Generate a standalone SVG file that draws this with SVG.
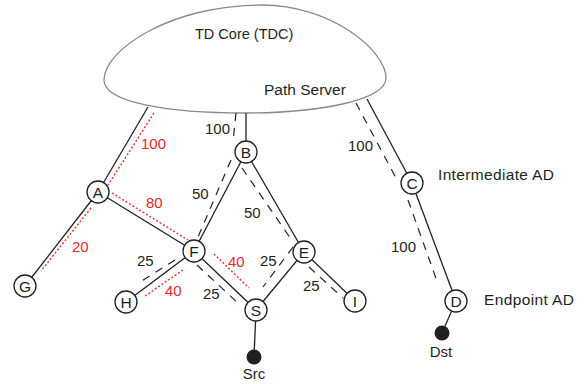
<svg xmlns="http://www.w3.org/2000/svg" width="585" height="384" viewBox="0 0 585 384">
<style>
text{font-family:"Liberation Sans",Arial,sans-serif;fill:#231f20}
.lbl{font-size:15px}
.red{fill:#e8262d}
.big{font-size:16.5px}
.solid{stroke:#231f20;stroke-width:1.3;fill:none}
.dash{stroke:#231f20;stroke-width:1.2;stroke-dasharray:8 7;fill:none}
.dot{stroke:#ec2a30;stroke-width:1.4;stroke-dasharray:2 2;fill:none}
.node circle{fill:#fff;stroke:#231f20;stroke-width:1.3}
.node text{font-size:15.5px;text-anchor:middle}
</style>
<rect width="585" height="384" fill="#fff"/>
<g id="core">
<path d="M104,80 C104,50 170,5 262,5 C330,5 386,50 386,78 C386,100 320,113 245,113 C170,113 104,103 104,80 Z" fill="#fff" stroke="#8a8a8a" stroke-width="1.3"/>
<text x="195" y="39" style="font-size:14.5px">TD Core (TDC)</text>
<text x="264" y="95" style="font-size:15.5px">Path Server</text>
</g>
<g id="connectors">
<line class="solid" x1="148" y1="107" x2="98" y2="192"/>
<line class="solid" x1="98" y1="192" x2="25" y2="286"/>
<line class="solid" x1="98" y1="192" x2="194" y2="251"/>
<line class="solid" x1="246" y1="113" x2="246" y2="152"/>
<line class="solid" x1="246" y1="152" x2="194" y2="251"/>
<line class="solid" x1="246" y1="152" x2="304" y2="252"/>
<line class="solid" x1="194" y1="251" x2="126" y2="302"/>
<line class="solid" x1="194" y1="251" x2="256" y2="310"/>
<line class="solid" x1="256" y1="310" x2="304" y2="252"/>
<line class="solid" x1="304" y1="252" x2="355" y2="301"/>
<line class="solid" x1="256" y1="310" x2="254" y2="357"/>
<line class="solid" x1="367" y1="99" x2="412" y2="183"/>
<line class="solid" x1="412" y1="183" x2="456" y2="301"/>
<line class="solid" x1="456" y1="301" x2="442" y2="333"/>
<line class="dash" x1="236" y1="113" x2="233" y2="142"/>
<line class="dash" x1="231" y1="160" x2="198" y2="237"/>
<line class="dash" x1="242" y1="168" x2="293" y2="242"/>
<line class="dash" x1="175" y1="260" x2="137" y2="284"/>
<line class="dash" x1="197" y1="265" x2="240" y2="305"/>
<line class="dash" x1="293" y1="247" x2="263" y2="287"/>
<line class="dash" x1="309" y1="267" x2="343" y2="298"/>
<line class="dash" x1="356" y1="103" x2="396" y2="178"/>
<line class="dash" x1="408" y1="200" x2="438" y2="284"/>
<line class="dot" x1="154" y1="113" x2="108" y2="185"/>
<line class="dot" x1="112" y1="193" x2="188" y2="240"/>
<line class="dot" x1="91" y1="208" x2="41" y2="271"/>
<line class="dot" x1="183" y1="270" x2="145" y2="296"/>
<line class="dot" x1="214" y1="254" x2="249" y2="288"/>
</g>
<g id="labels" class="lbl">
<text class="lbl red" x="141" y="149">100</text>
<text class="lbl" x="205" y="134">100</text>
<text class="lbl red" x="146" y="208">80</text>
<text class="lbl red" x="72" y="252">20</text>
<text class="lbl" x="192" y="199">50</text>
<text class="lbl" x="244" y="218">50</text>
<text class="lbl" x="137" y="266">25</text>
<text class="lbl red" x="165" y="296">40</text>
<text class="lbl" x="203" y="299">25</text>
<text class="lbl red" x="228" y="267">40</text>
<text class="lbl" x="260" y="266">25</text>
<text class="lbl" x="303" y="291">25</text>
<text class="lbl" x="348" y="151">100</text>
<text class="lbl" x="391" y="252">100</text>
</g>
<g id="A" class="node"><circle cx="98" cy="192" r="11"/><text x="98" y="197.5">A</text></g>
<g id="B" class="node"><circle cx="246" cy="152" r="11"/><text x="246" y="157.5">B</text></g>
<g id="C" class="node"><circle cx="412" cy="183" r="11"/><text x="412" y="188.5">C</text><text x="438" y="180" class="big" style="text-anchor:start" textLength="116">Intermediate AD</text></g>
<g id="D" class="node"><circle cx="456" cy="301" r="11"/><text x="456" y="306.5">D</text><text x="484" y="305" class="big" style="text-anchor:start" textLength="90">Endpoint AD</text></g>
<g id="E" class="node"><circle cx="304" cy="252" r="11"/><text x="304" y="257.5">E</text></g>
<g id="F" class="node"><circle cx="194" cy="251" r="11"/><text x="194" y="256.5">F</text></g>
<g id="G" class="node"><circle cx="25" cy="286" r="11"/><text x="25" y="291.5">G</text></g>
<g id="H" class="node"><circle cx="126" cy="302" r="11"/><text x="126" y="307.5">H</text></g>
<g id="I" class="node"><circle cx="355" cy="301" r="11"/><text x="355" y="306.5">I</text></g>
<g id="S" class="node"><circle cx="256" cy="310" r="11"/><text x="256" y="315.5">S</text></g>
<g id="Src"><circle cx="254" cy="357" r="7.5" fill="#231f20"/><text x="254" y="379" style="font-size:15px;text-anchor:middle">Src</text></g>
<g id="Dst"><circle cx="442" cy="333" r="7.5" fill="#231f20"/><text x="441" y="357" style="font-size:15px;text-anchor:middle">Dst</text></g>
</svg>
